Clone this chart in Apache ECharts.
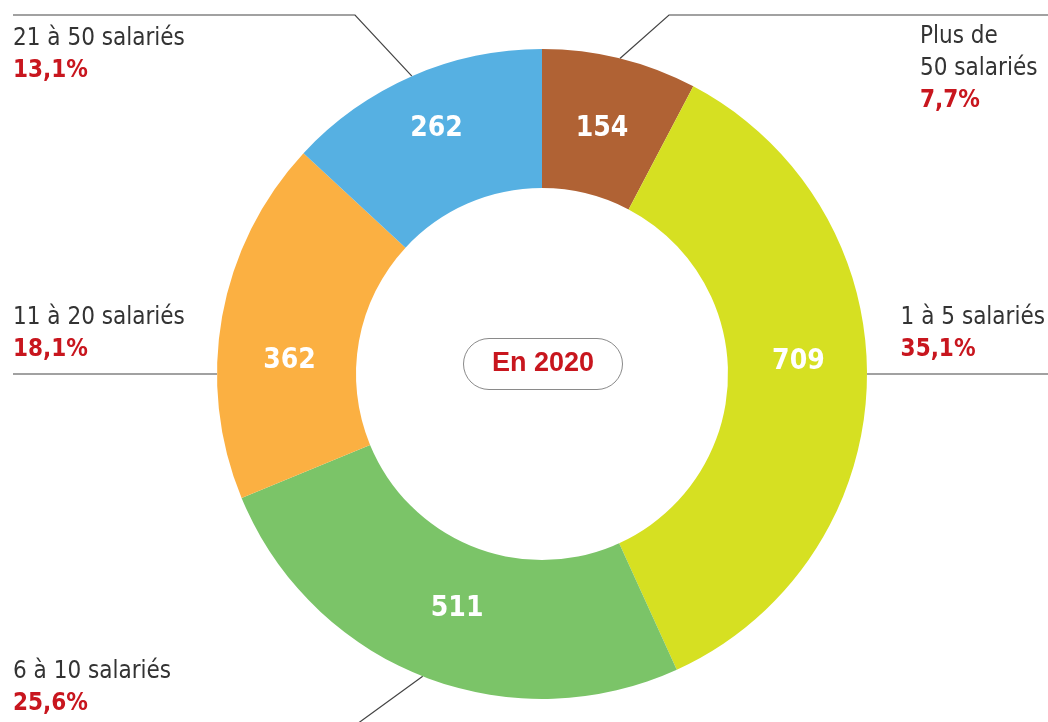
<!DOCTYPE html>
<html>
<head>
<meta charset="utf-8">
<script src="https://cdn.jsdelivr.net/npm/echarts@6/dist/echarts.min.js"></script>
<style>
  html, body { margin: 0; padding: 0; background: #fff; }
  #main { width: 1048px; height: 722px; }
</style>
</head>
<body>
<div id="main"></div>
<script>
// données (sens horaire depuis midi)
const categories = ["Plus de\n50 salariés", "1 à 5 salariés", "6 à 10 salariés", "11 à 20 salariés", "21 à 50 salariés"];
const counts = [154, 709, 511, 362, 262];
const shares = ["7,7%", "35,1%", "25,6%", "18,1%", "13,1%"];
const centerTitle = "En 2020";

const colors = ["#b06234", "#d6e022", "#7bc468", "#fbb042", "#56b0e2"];
const NARROW = '"Liberation Sans Narrow", "DejaVu Sans Condensed", sans-serif';
const RED = "#c8161e";

// géométrie de l'anneau
const CX = 542, CY = 374, R_IN = 186, R_OUT = 325;
const W = 1048, LEFT = 13, RIGHT = 1045, TOP_LINE = 15, BOTTOM_LINE = 724;

// position du texte de chaque étiquette : [x, y (haut), côté]
const labelPos = [
  [920, 21, "r"],
  [920, 302, "r"],
  [LEFT, 656, "l"],
  [LEFT, 302, "l"],
  [LEFT, 23, "l"],
];
// petits décalages des valeurs dans l'anneau
const valueNudge = [[-2, 6], [-2, -20], [10, -6], [2, 32], [-2, -8]];

function linePoints(i, s) {
  switch (i) {
    case 0: return [s, [669, TOP_LINE], [W, TOP_LINE]];
    case 1: return [[CX + R_OUT, CY], [960, CY], [W, CY]];
    case 2: return [s, [357, BOTTOM_LINE], [LEFT, BOTTOM_LINE]];
    case 3: return [[CX - R_OUT, CY], [100, CY], [LEFT, CY]];
    case 4: return [s, [355, TOP_LINE], [LEFT, TOP_LINE]];
  }
}

const myChart = echarts.init(document.getElementById("main"));

const option = {
  animation: false,
  backgroundColor: "#fff",
  title: {
    text: centerTitle,
    left: 463,
    top: 338,
    padding: [11, 29],
    borderColor: "#8a8a8a",
    borderWidth: 1,
    borderRadius: 26,
    textStyle: {
      color: RED,
      fontFamily: '"Liberation Sans", Arial, sans-serif',
      fontWeight: "bold",
      fontSize: 27,
      lineHeight: 30,
    },
  },
  series: [
    {
      type: "pie",
      center: [CX, CY],
      radius: [R_IN, R_OUT],
      startAngle: 90,
      clockwise: true,
      silent: true,
      data: counts.map((v, i) => ({
        value: v,
        name: categories[i],
        itemStyle: { color: colors[i] },
      })),
      label: {
        show: true,
        position: "inside",
        formatter: "{c}",
        color: "#fff",
        fontFamily: NARROW,
        fontWeight: "bold",
        fontSize: 28,
      },
      labelLine: { show: false },
      labelLayout: (p) => ({
        dx: valueNudge[p.dataIndex][0],
        dy: valueNudge[p.dataIndex][1],
      }),
    },
    {
      // série transparente qui ne porte que les étiquettes extérieures
      type: "pie",
      center: [CX, CY],
      radius: [R_IN, R_OUT],
      startAngle: 90,
      clockwise: true,
      silent: true,
      avoidLabelOverlap: false,
      itemStyle: { color: "rgba(0,0,0,0)" },
      data: counts.map((v, i) => ({ value: v, name: categories[i] })),
      label: {
        show: true,
        position: "outside",
        formatter: (p) => {
          const name = p.name.split("\n").map((t) => "{n|" + t + "}").join("\n");
          return name + "\n{p|" + shares[p.dataIndex] + "}";
        },
        rich: {
          n: { fontFamily: NARROW, fontSize: 24, lineHeight: 32, color: "#333" },
          p: { fontFamily: NARROW, fontSize: 24, lineHeight: 32, color: RED, fontWeight: "bold" },
        },
      },
      labelLine: {
        show: true,
        length: 20,
        length2: 20,
        smooth: false,
        lineStyle: { color: "#444", width: 1.2 },
      },
      labelLayout: function (p) {
        const i = p.dataIndex;
        const s = p.labelLinePoints ? p.labelLinePoints[0] : [CX, CY];
        let x = labelPos[i][0];
        if (labelPos[i][2] === "r") x = Math.min(x, RIGHT - p.labelRect.width);
        return {
          x: x,
          y: labelPos[i][1],
          align: "left",
          verticalAlign: "top",
          labelLinePoints: linePoints(i, s),
        };
      },
    },
  ],
};

option && myChart.setOption(option);
</script>
</body>
</html>
